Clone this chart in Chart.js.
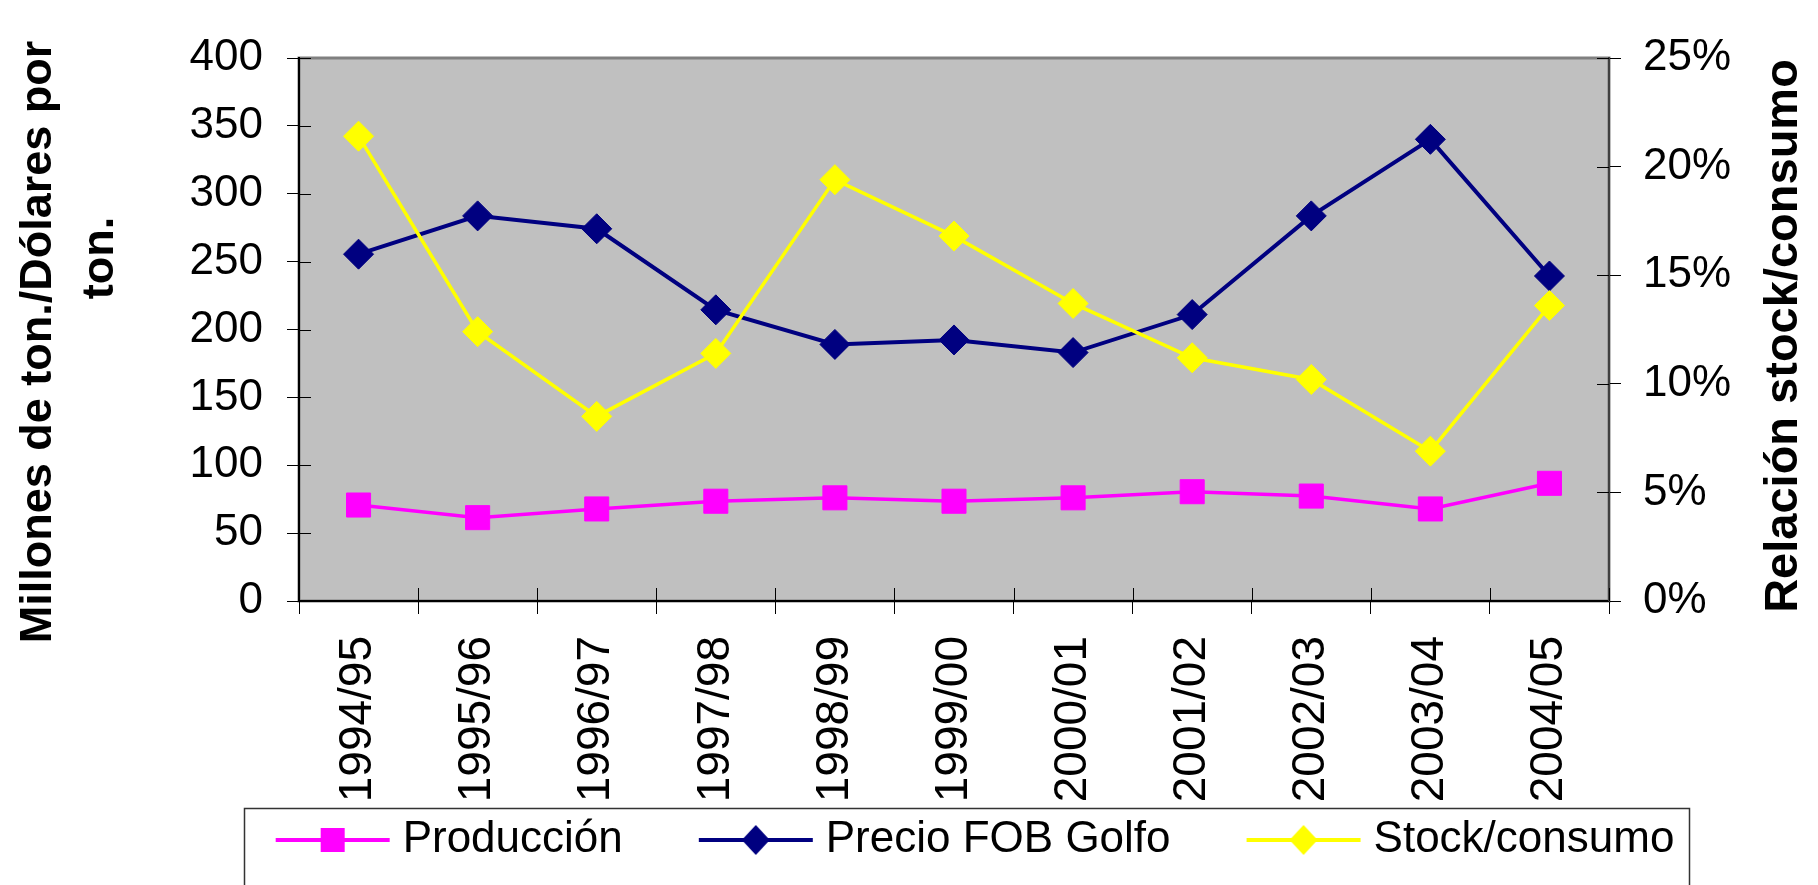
<!DOCTYPE html>
<html>
<head>
<meta charset="utf-8">
<title>Producción, Precio FOB Golfo y Stock/consumo</title>
<script src="https://cdn.jsdelivr.net/npm/chart.js@4.4.1/dist/chart.umd.min.js"></script>
<style>
  html, body { margin: 0; padding: 0; background: #fff; }
  canvas { display: block; }
</style>
</head>
<body>
<canvas id="chart" width="1818" height="885"></canvas>
<script>
// Campañas
const categories = ['1994/95', '1995/96', '1996/97', '1997/98', '1998/99', '1999/00',
  '2000/01', '2001/02', '2002/03', '2003/04', '2004/05'];

// Millones de ton.
const produccion = [70.7, 61.4, 67.8, 73.5, 76.0, 73.5, 76.0, 80.5, 77.3, 67.8, 86.7];
// Dólares por ton.
const precioFob = [255.5, 283.7, 274.2, 214.5, 189.0, 192.3, 183.0, 211.0, 283.7, 340.1, 239.4];
// Relación stock/consumo (%)
const stockConsumo = [21.4, 12.4, 8.5, 11.4, 19.4, 16.8, 13.7, 11.2, 10.2, 6.9, 13.6];

const leftTicks = [0, 50, 100, 150, 200, 250, 300, 350, 400];
const rightTicks = [0, 5, 10, 15, 20, 25];

const leftTitle = ['Millones de ton./Dólares por', 'ton.'];
const rightTitle = 'Relación stock/consumo';

const FONT = "'Liberation Sans', Arial, sans-serif";
Chart.defaults.font.family = FONT;
Chart.defaults.color = '#000';

// legend box width; the symbol canvas is wider and carries the line+marker
// on its right end so the gap to the text stays small
const LEGEND_BOX = 169;

function legendSymbol(color, shape) {
  const c = document.createElement('canvas');
  c.width = LEGEND_BOX + 20;
  c.height = 34;
  const g = c.getContext('2d');
  const x0 = c.width - 115;
  const mid = x0 + 57;
  g.strokeStyle = color;
  g.lineWidth = 4;
  g.beginPath();
  g.moveTo(x0, 17);
  g.lineTo(c.width - 1, 17);
  g.stroke();
  g.fillStyle = color;
  if (shape === 'rect') {
    g.fillRect(mid - 12, 5, 24, 24);
  } else {
    g.beginPath();
    g.moveTo(mid, 2);
    g.lineTo(mid + 14, 17);
    g.lineTo(mid, 32);
    g.lineTo(mid - 14, 17);
    g.closePath();
    g.fill();
  }
  return c;
}

const symbols = [
  legendSymbol('#FF00FF', 'rect'),
  legendSymbol('#000080', 'rectRot'),
  legendSymbol('#FFFF00', 'rectRot')
];

// grey plot area with its frame
const plotBackground = {
  id: 'plotBackground',
  beforeDraw(chart) {
    const {ctx, chartArea: a} = chart;
    ctx.save();
    ctx.fillStyle = '#C0C0C0';
    ctx.fillRect(a.left, a.top, a.right - a.left, a.bottom - a.top);
    ctx.strokeStyle = '#808080';
    ctx.lineWidth = 3;
    ctx.strokeRect(a.left, a.top, a.right - a.left, a.bottom - a.top);
    ctx.restore();
  }
};

// inner half of the crossing tick marks
const crossTicks = {
  id: 'crossTicks',
  beforeDatasetsDraw(chart) {
    const {ctx, chartArea: a, scales} = chart;
    ctx.save();
    ctx.strokeStyle = '#000';
    ctx.lineWidth = 1;
    ctx.beginPath();
    scales.y.ticks.forEach((t, i) => {
      const py = Math.round(scales.y.getPixelForTick(i)) + 0.5;
      ctx.moveTo(a.left, py);
      ctx.lineTo(a.left + 12, py);
    });
    scales.y1.ticks.forEach((t, i) => {
      const py = Math.round(scales.y1.getPixelForTick(i)) + 0.5;
      ctx.moveTo(a.right - 12, py);
      ctx.lineTo(a.right, py);
    });
    for (let i = 0; i <= categories.length; i++) {
      const px = Math.round(scales.x.getPixelForValue(i - 0.5)) + 0.5;
      ctx.moveTo(px, a.bottom);
      ctx.lineTo(px, a.bottom - 13);
    }
    ctx.stroke();
    ctx.restore();
  }
};

// rotated axis titles
const axisTitles = {
  id: 'axisTitles',
  afterDraw(chart) {
    const ctx = chart.ctx;
    const draw = (text, x, y, size) => {
      ctx.save();
      ctx.font = 'bold ' + size + 'px ' + FONT;
      ctx.translate(x, y);
      ctx.rotate(-Math.PI / 2);
      ctx.fillText(text, 0, 0);
      ctx.restore();
    };
    ctx.save();
    ctx.fillStyle = '#000';
    ctx.textAlign = 'center';
    ctx.textBaseline = 'alphabetic';
    draw(leftTitle[0], 51, 342, 45);
    draw(leftTitle[1], 113, 258, 45);
    draw(rightTitle, 1797, 336, 47);
    ctx.restore();
  }
};

// frame around the legend
const legendFrame = {
  id: 'legendFrame',
  afterDraw(chart) {
    const boxes = chart.legend && chart.legend.legendHitBoxes;
    if (!boxes || !boxes.length) return;
    const first = boxes[0];
    const last = boxes[boxes.length - 1];
    const x0 = Math.round(first.left + LEGEND_BOX - 105 - 32) + 0.5;
    const x1 = Math.round(last.left + last.width + 15) + 0.5;
    const y0 = Math.round(first.top - 10) + 0.5;
    const ctx = chart.ctx;
    ctx.save();
    ctx.strokeStyle = '#333';
    ctx.lineWidth = 1.5;
    ctx.strokeRect(x0, y0, x1 - x0, 200);
    ctx.restore();
  }
};

const chart = new Chart(document.getElementById('chart'), {
  type: 'line',
  data: {
    labels: categories,
    datasets: [
      {
        label: 'Producción',
        data: produccion,
        yAxisID: 'y',
        borderColor: '#FF00FF',
        backgroundColor: '#FF00FF',
        borderWidth: 3.5,
        pointStyle: 'rect',
        pointRadius: 17,
        pointBorderWidth: 1,
        order: 3
      },
      {
        label: 'Precio FOB Golfo',
        data: precioFob,
        yAxisID: 'y',
        borderColor: '#000080',
        backgroundColor: '#000080',
        borderWidth: 4,
        pointStyle: 'rectRot',
        pointRadius: 15,
        pointBorderWidth: 1,
        order: 2
      },
      {
        label: 'Stock/consumo',
        data: stockConsumo,
        yAxisID: 'y1',
        borderColor: '#FFFF00',
        backgroundColor: '#FFFF00',
        borderWidth: 3.5,
        pointStyle: 'rectRot',
        pointRadius: 15,
        pointBorderWidth: 1,
        order: 1
      }
    ]
  },
  options: {
    responsive: false,
    animation: false,
    events: [],
    layout: { padding: { left: 68, right: 0, top: 58, bottom: 13 } },
    elements: { line: { tension: 0 } },
    scales: {
      x: {
        offset: true,
        grid: { offset: true, drawOnChartArea: false, drawTicks: true, tickLength: 13, color: '#000', lineWidth: 1 },
        border: { display: true, color: '#000', width: 2 },
        ticks: { autoSkip: false, maxRotation: 90, minRotation: 90, padding: 22, font: { size: 46 }, color: '#000' },
        afterFit(scale) { scale.height = 205; }
      },
      y: {
        position: 'left',
        min: 0,
        max: 400,
        afterBuildTicks(scale) { scale.ticks = leftTicks.map(v => ({ value: v })); },
        grid: { drawOnChartArea: false, tickLength: 12, color: '#000', lineWidth: 1 },
        border: { display: true, color: '#000', width: 2 },
        ticks: { padding: 24, font: { size: 44 }, color: '#000' },
        afterFit(scale) { scale.width = 231; }
      },
      y1: {
        position: 'right',
        min: 0,
        max: 25,
        afterBuildTicks(scale) { scale.ticks = rightTicks.map(v => ({ value: v })); },
        grid: { drawOnChartArea: false, tickLength: 12, color: '#000', lineWidth: 1 },
        border: { display: true, color: '#404040', width: 2 },
        ticks: { padding: 22, font: { size: 44 }, color: '#000', callback: v => v + '%' },
        afterFit(scale) { scale.width = 209; }
      }
    },
    plugins: {
      tooltip: { enabled: false },
      legend: {
        position: 'bottom',
        labels: {
          usePointStyle: true,
          pointStyleWidth: LEGEND_BOX,
          padding: 12,
          color: '#000',
          font: { size: 44 },
          sort: (a, b) => a.datasetIndex - b.datasetIndex,
          generateLabels(chart) {
            const items = Chart.defaults.plugins.legend.labels.generateLabels(chart);
            items.forEach(item => { item.pointStyle = symbols[item.datasetIndex]; });
            return items;
          }
        }
      }
    }
  },
  plugins: [plotBackground, crossTicks, axisTitles, legendFrame]
});
</script>
</body>
</html>
